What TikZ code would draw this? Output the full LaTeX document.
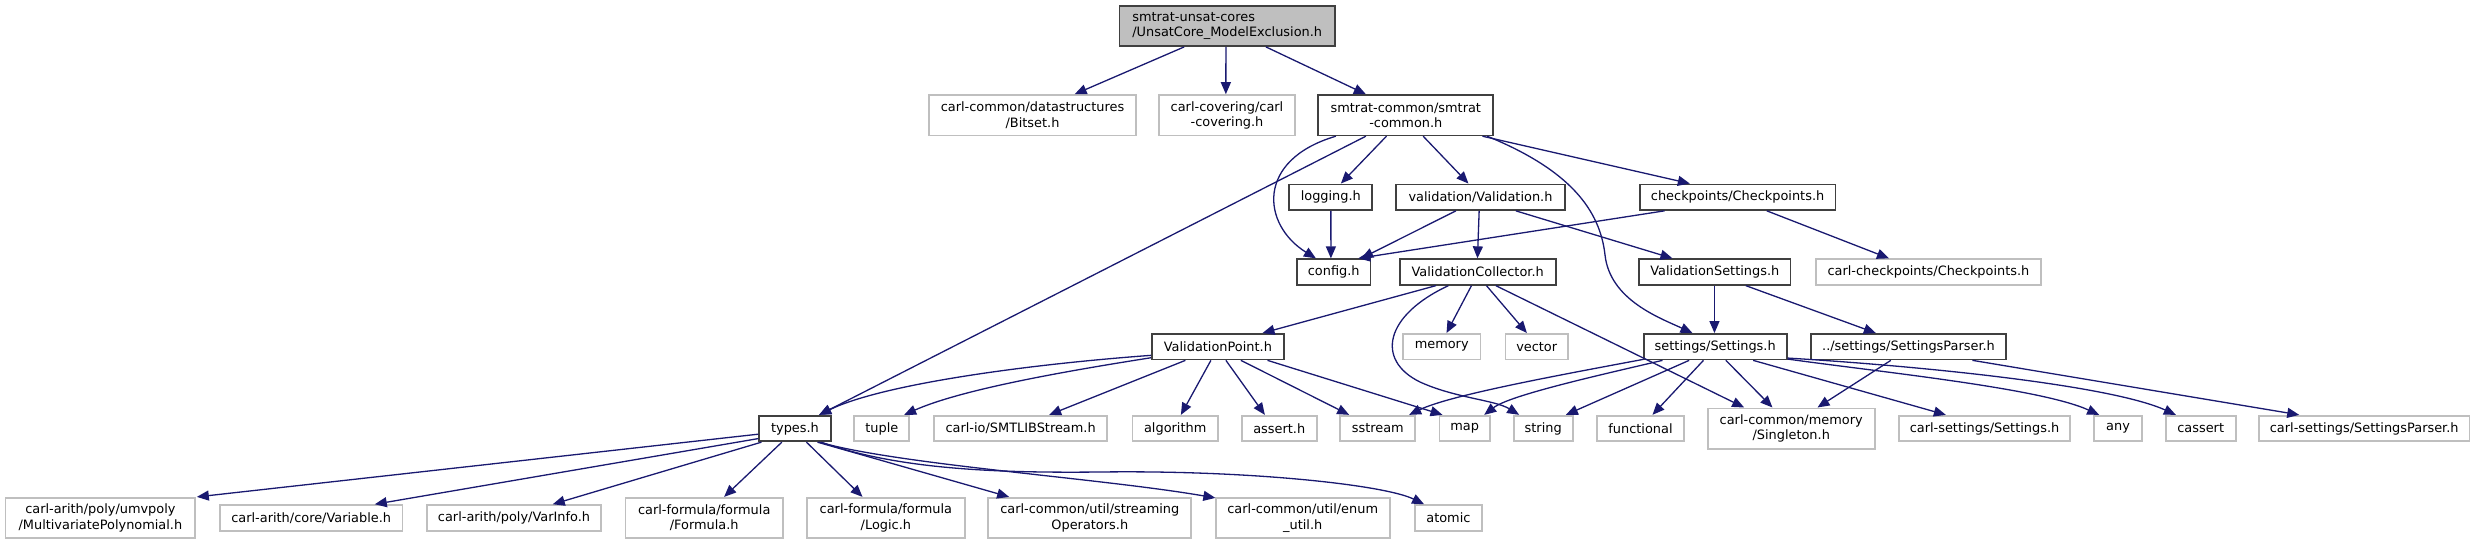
\documentclass[tikz,border=0pt]{standalone}
\usepackage{fontspec}
\setmainfont{DejaVu Sans}
\usetikzlibrary{arrows.meta}
\definecolor{mblue}{HTML}{191970}
\definecolor{dgray}{HTML}{404040}
\definecolor{lgray}{HTML}{BFBFBF}
\definecolor{rootfill}{HTML}{BFBFBF}
\newcommand{\nodefont}{\fontsize{12.9pt}{15.5pt}\selectfont}
\tikzset{
  box/.style={draw=dgray, line width=1.7pt, fill=white, inner sep=0pt, font=\nodefont, align=center, minimum height=25.6pt},
  tall/.style={minimum height=40.3pt},
  ext/.style={box, draw=lgray},
  dep/.style={draw=mblue, line width=1.3pt, -{Triangle[length=12pt,width=10pt]}}
}
\begin{document}
\begin{tikzpicture}[x=1pt,y=-1pt]
\useasboundingbox (0,0) rectangle (2475,544);
% row 0
\node[box, tall, fill=rootfill, align=left, minimum width=215.7pt] (root) at (1227.2,25.9) {smtrat-unsat-cores\\/UnsatCore\_ModelExclusion.h};
% row 1
\node[ext, tall, minimum width=207pt] (bitset) at (1032.5,115.2) {carl-common/datastructures\\/Bitset.h};
\node[ext, tall, minimum width=135.4pt] (covering) at (1227,115.2) {carl-covering/carl\\-covering.h};
\node[box, tall, minimum width=175pt] (common) at (1405.8,115.2) {smtrat-common/smtrat\\-common.h};
% row 2
\node[box, minimum width=83pt] (logging) at (1330.8,197.2) {logging.h};
\node[box, minimum width=168.4pt] (validation) at (1480.5,197.2) {validation/Validation.h};
\node[box, minimum width=195.8pt] (checkpoints) at (1737.6,197.2) {checkpoints/Checkpoints.h};
% row 3
\node[box, minimum width=73.3pt] (config) at (1333.7,272) {config.h};
\node[box, minimum width=156pt] (vcollector) at (1477.7,272) {ValidationCollector.h};
\node[box, minimum width=151.6pt] (vsettings) at (1714.8,272) {ValidationSettings.h};
\node[ext, minimum width=225.2pt] (carlcheck) at (1928.4,272) {carl-checkpoints/Checkpoints.h};
% row 4
\node[box, minimum width=132.3pt] (vpoint) at (1217.9,346.7) {ValidationPoint.h};
\node[ext, minimum width=77.3pt] (memory) at (1441.7,346.7) {memory};
\node[ext, minimum width=62.7pt] (vector) at (1536.7,346.7) {vector};
\node[box, minimum width=143pt] (settings) at (1715.2,346.7) {settings/Settings.h};
\node[box, minimum width=195pt] (sparser) at (1908.5,346.7) {../settings/SettingsParser.h};
% row 5
\node[box, minimum width=71.4pt] (types) at (795,428.5) {types.h};
\node[ext, minimum width=55pt] (tuple) at (881.8,428.5) {tuple};
\node[ext, minimum width=173.2pt] (smtlib) at (1020.6,428.5) {carl-io/SMTLIBStream.h};
\node[ext, minimum width=85.7pt] (algorithm) at (1175.2,428.5) {algorithm};
\node[ext, minimum width=75pt] (assert) at (1279.2,428.5) {assert.h};
\node[ext, minimum width=75pt] (sstream) at (1377.8,428.5) {sstream};
\node[ext, minimum width=50.7pt] (map) at (1464.7,428.5) {map};
\node[ext, minimum width=59pt] (string) at (1543.2,428.5) {string};
\node[ext, minimum width=87pt] (functional) at (1640.5,428.5) {functional};
\node[ext, tall, minimum width=167pt] (singleton) at (1791.2,428.5) {carl-common/memory\\/Singleton.h};
\node[ext, minimum width=171.6pt] (carlsettings) at (1984.5,428.5) {carl-settings/Settings.h};
\node[ext, minimum width=47.4pt] (any) at (2118,428.5) {any};
\node[ext, minimum width=70pt] (cassert) at (2200.7,428.5) {cassert};
\node[ext, minimum width=210.3pt] (carlsparser) at (2364.2,428.5) {carl-settings/SettingsParser.h};
% row 6
\node[ext, tall, minimum width=189.8pt] (multipoly) at (100.4,517.9) {carl-arith/poly/umvpoly\\/MultivariatePolynomial.h};
\node[ext, minimum width=182.7pt] (variable) at (311.2,517.9) {carl-arith/core/Variable.h};
\node[ext, minimum width=174pt] (varinfo) at (514,517.9) {carl-arith/poly/VarInfo.h};
\node[ext, tall, minimum width=157.5pt] (formula) at (704.2,517.9) {carl-formula/formula\\/Formula.h};
\node[ext, tall, minimum width=157.7pt] (logic) at (885.9,517.9) {carl-formula/formula\\/Logic.h};
\node[ext, tall, minimum width=203pt] (streaming) at (1089.8,517.9) {carl-common/util/streaming\\Operators.h};
\node[ext, tall, minimum width=174pt] (enumutil) at (1302.7,517.9) {carl-common/util/enum\\\_util.h};
\node[ext, minimum width=66.9pt] (atomic) at (1448.4,517.9) {atomic};
% edges
\draw[dep] ([xshift=65.7pt]root.south west) -- ([xshift=146.5pt]bitset.north west);
\draw[dep] ([xshift=107.4pt]root.south west) -- ([xshift=67.4pt]covering.north west);
\draw[dep] ([xshift=147.4pt]root.south west) -- ([xshift=48.4pt]common.north west);
\draw[dep] ([xshift=48.4pt]common.south west) -- ([xshift=60.7pt]types.north west);
\draw[dep] ([xshift=18.4pt]common.south west) .. controls (1255,160) and (1262,225) .. ([xshift=19.7pt]config.north west);
\draw[dep] ([xshift=69pt]common.south west) -- ([xshift=52.4pt]logging.north west);
\draw[dep] ([xshift=105.7pt]common.south west) -- ([xshift=73pt]validation.north west);
\draw[dep] ([xshift=169.7pt]common.south west) .. controls (1570,170) and (1600,210) .. (1605,255) .. controls (1610,300) and (1660,318) .. ([xshift=49.6pt]settings.north west);
\draw[dep] ([xshift=165pt]common.south west) -- ([xshift=51pt]checkpoints.north west);
\draw[dep] ([xshift=42.4pt]logging.south west) -- ([xshift=34.7pt]config.north west);
\draw[dep] ([xshift=60.4pt]validation.south west) -- ([xshift=65pt]config.north west);
\draw[dep] ([xshift=83.7pt]validation.south west) -- ([xshift=78.6pt]vcollector.north west);
\draw[dep] ([xshift=120.4pt]validation.south west) -- ([xshift=34.3pt]vsettings.north west);
\draw[dep] ([xshift=25.6pt]checkpoints.south west) -- ([xshift=62pt]config.north west);
\draw[dep] ([xshift=128pt]checkpoints.south west) -- ([xshift=74pt]carlcheck.north west);
\draw[dep] ([xshift=37pt]vcollector.south west) -- ([xshift=111.6pt]vpoint.north west);
\draw[dep] ([xshift=72.6pt]vcollector.south west) -- ([xshift=44.3pt]memory.north west);
\draw[dep] ([xshift=87.6pt]vcollector.south west) -- ([xshift=22.4pt]vector.north west);
\draw[dep] ([xshift=49.6pt]vcollector.south west) .. controls (1385,315) and (1375,360) .. (1420,382) .. controls (1455,398) and (1495,400) .. ([xshift=6.3pt]string.north west);
\draw[dep] ([xshift=97pt]vcollector.south west) -- ([xshift=37.3pt]singleton.north west);
\draw[dep] ([xshift=76.3pt]vsettings.south west) -- ([xshift=71.6pt]settings.north west);
\draw[dep] ([xshift=107.7pt]vsettings.south west) -- ([xshift=65.7pt]sparser.north west);
\draw[dep] ([yshift=5pt]vpoint.south west) .. controls (1020,365) and (880,385) .. ([xshift=60.7pt]types.north west);
\draw[dep] ([yshift=2.6pt]vpoint.south west) .. controls (1060,372) and (960,390) .. ([xshift=50.7pt]tuple.north west);
\draw[dep] ([xshift=34.5pt]vpoint.south west) -- ([xshift=116pt]smtlib.north west);
\draw[dep] ([xshift=60pt]vpoint.south west) -- ([xshift=49.4pt]algorithm.north west);
\draw[dep] ([xshift=75pt]vpoint.south west) -- ([xshift=24pt]assert.north west);
\draw[dep] ([xshift=90pt]vpoint.south west) -- ([xshift=9.7pt]sstream.north west);
\draw[dep] ([xshift=116.6pt]vpoint.south west) -- ([xshift=4pt]map.north west);
\draw[dep] ([xshift=0.5pt,yshift=1pt]settings.south west) .. controls (1560,375) and (1450,395) .. ([xshift=69.7pt]sstream.north west);
\draw[dep] ([xshift=19.6pt]settings.south west) .. controls (1600,375) and (1510,395) .. ([xshift=45.7pt]map.north west);
\draw[dep] ([xshift=46.3pt]settings.south west) -- ([xshift=53pt]string.north west);
\draw[dep] ([xshift=60.6pt]settings.south west) -- ([xshift=56.3pt]functional.north west);
\draw[dep] ([xshift=83pt]settings.south west) -- ([xshift=65.6pt]singleton.north west);
\draw[dep] ([xshift=110.3pt]settings.south west) -- ([xshift=48pt]carlsettings.north west);
\draw[dep] ([yshift=1.3pt]settings.south east) .. controls (1880,372) and (2040,388) .. ([xshift=5.7pt]any.north west);
\draw[dep] ([yshift=2.3pt]settings.south east) .. controls (1920,366) and (2110,385) .. ([xshift=11pt]cassert.north west);
\draw[dep] ([xshift=80.7pt]sparser.south west) -- ([xshift=110.6pt]singleton.north west);
\draw[dep] ([xshift=162.3pt]sparser.south west) -- ([xshift=41pt]carlsparser.north west);
\draw[dep] ([yshift=8pt]types.south west) -- ([xshift=192.2pt]multipoly.north west);
\draw[dep] ([yshift=3.6pt]types.south west) -- ([xshift=155.8pt]variable.north west);
\draw[dep] ([xshift=3pt]types.south west) -- ([xshift=126.6pt]varinfo.north west);
\draw[dep] ([xshift=23.4pt]types.south west) -- ([xshift=99.5pt]formula.north west);
\draw[dep] ([xshift=48pt]types.south west) -- ([xshift=56.3pt]logic.north west);
\draw[dep] ([xshift=59pt]types.south west) -- ([xshift=21.7pt]streaming.north west);
\draw[dep] ([xshift=60.7pt]types.south west) .. controls (900,465) and (1100,478) .. ([xshift=0.5pt,yshift=-1pt]enumutil.north west);
\draw[dep] ([xshift=62.7pt]types.south west) .. controls (900,470) and (1000,473) .. (1100,472) .. controls (1250,470) and (1385,485) .. ([xshift=10pt]atomic.north west);
\end{tikzpicture}
\end{document}
